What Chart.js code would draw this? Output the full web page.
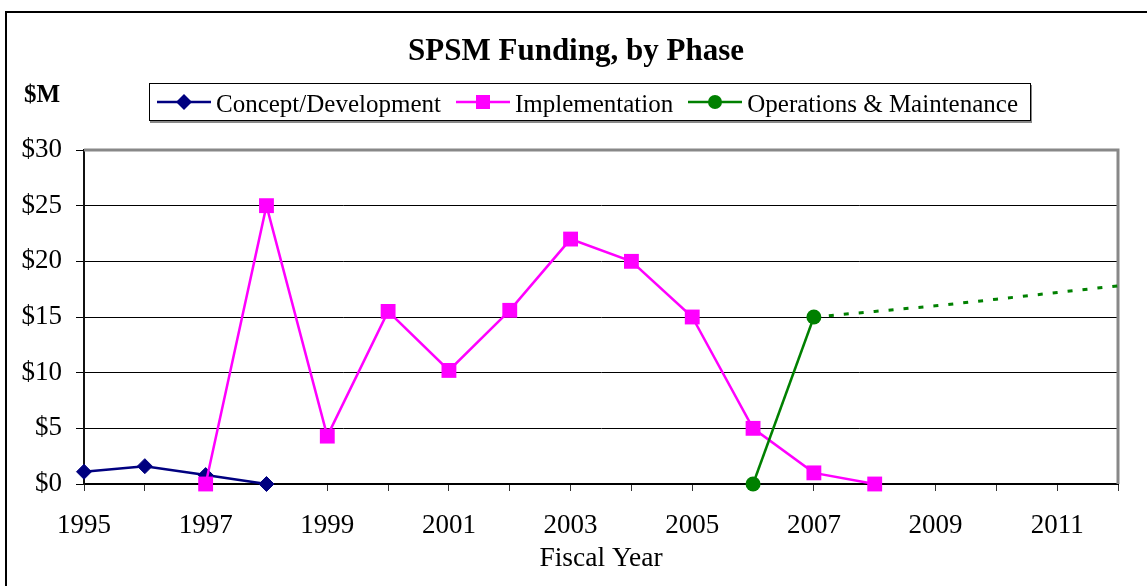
<!DOCTYPE html>
<html>
<head>
<meta charset="utf-8">
<script src="https://cdn.jsdelivr.net/npm/chart.js@4/dist/chart.umd.min.js"></script>
<style>
  body { margin: 0; background: #fff; font-family: "Liberation Serif", serif; }
  #wrap { position: relative; width: 1147px; height: 586px; overflow: hidden; }
  #frame { position: absolute; left: 5px; top: 11px; width: 1160px; height: 600px; border: 2px solid #000; }
  #chart { position: absolute; left: 0; top: 0; }
  #title { position: absolute; left: 0; top: 34px; width: 1152px; text-align: center; font-weight: bold; font-size: 31px; line-height: 1; }
  #unit { position: absolute; left: 24px; top: 81px; font-weight: bold; font-size: 25px; line-height: 1; }
  #legend { position: absolute; left: 149px; top: 83px; width: 873px; height: 36px; border: 1px solid #000;
            box-shadow: 1px 2px 0 #888; display: flex; align-items: center; padding-left: 7px; box-sizing: content-box;
            background: #fff; white-space: nowrap; overflow: hidden; }
  .item { display: flex; align-items: center; margin-right: 15px; flex-shrink: 0; }
  .item:last-child { margin-right: 0; }
  .item svg { flex-shrink: 0; }
  .item span { font-size: 25px; line-height: 1; margin-left: 5px; padding-top: 2px; white-space: nowrap; }
</style>
</head>
<body>
<div id="wrap">
  <div id="frame"></div>
  <canvas id="chart" width="1147" height="586"></canvas>
  <div id="title">SPSM Funding, by Phase</div>
  <div id="unit">$M</div>
  <div id="legend"></div>
</div>
<script>
const years = ['1995', '1996', '1997', '1998', '1999', '2000', '2001', '2002', '2003',
  '2004', '2005', '2006', '2007', '2008', '2009', '2010', '2011', '2012'];
const conceptDev = [1.1, 1.6, 0.8, 0, null, null, null, null, null, null, null, null, null, null, null, null, null, null];
const implementation = [null, null, 0, 25, 4.3, 15.5, 10.2, 15.6, 22, 20, 15, 5, 1.0, 0, null, null, null, null];
const operations = [null, null, null, null, null, null, null, null, null, null, null, 0, 15, null, null, null, null, null];
const operationsProjected = [null, null, null, null, null, null, null, null, null, null, null, null, 15, 15.5, 16.0, 16.6, 17.2, 17.8];
const yTicks = [0, 5, 10, 15, 20, 25, 30];

const seriesNames = ['Concept/Development', 'Implementation', 'Operations & Maintenance'];
const seriesColors = ['#000080', '#ff00ff', '#008000'];
const seriesMarkers = ['diamond', 'square', 'circle'];

// legend built as html, the chart one can't draw line + marker
const legend = document.getElementById('legend');
seriesNames.forEach((name, i) => {
  const c = seriesColors[i];
  let marker = '';
  if (seriesMarkers[i] === 'diamond') marker = `<polygon points="27,2 35,10 27,18 19,10" fill="${c}"/>`;
  if (seriesMarkers[i] === 'square') marker = `<rect x="20" y="3" width="14" height="14" fill="${c}"/>`;
  if (seriesMarkers[i] === 'circle') marker = `<circle cx="27" cy="10" r="7" fill="${c}"/>`;
  const div = document.createElement('div');
  div.className = 'item';
  div.innerHTML = `<svg width="54" height="20"><line x1="0" y1="10" x2="54" y2="10" stroke="${c}" stroke-width="2.5"/>${marker}</svg><span>${name}</span>`;
  legend.appendChild(div);
});

const plotFrame = {
  id: 'plotFrame',
  beforeDatasetsDraw(chart) {
    const { ctx, chartArea: a } = chart;
    ctx.save();
    ctx.strokeStyle = '#888';
    ctx.lineWidth = 3;
    ctx.beginPath();
    ctx.moveTo(a.left, a.top);
    ctx.lineTo(a.right, a.top);
    ctx.lineTo(a.right, a.bottom);
    ctx.stroke();
    ctx.restore();
  }
};

const font = { family: 'Liberation Serif', size: 27 };

new Chart(document.getElementById('chart'), {
  type: 'line',
  data: {
    labels: years,
    datasets: [
      {
        label: seriesNames[0], data: conceptDev, order: 2, clip: false,
        borderColor: seriesColors[0], backgroundColor: seriesColors[0], borderWidth: 2.5,
        pointStyle: 'rectRot', pointRadius: 7.5, pointBorderWidth: 1
      },
      {
        label: seriesNames[1], data: implementation, order: 1, clip: false,
        borderColor: seriesColors[1], backgroundColor: seriesColors[1], borderWidth: 2.5,
        pointStyle: 'rect', pointRadius: 10.5, pointBorderWidth: 0
      },
      {
        label: seriesNames[2], data: operations, order: 0, clip: false,
        borderColor: seriesColors[2], backgroundColor: seriesColors[2], borderWidth: 2.5,
        pointStyle: 'circle', pointRadius: 7.5, pointBorderWidth: 0
      },
      {
        label: 'O&M projected', data: operationsProjected, order: 3, clip: false,
        borderColor: seriesColors[2], borderWidth: 3, borderDash: [5, 10], pointRadius: 0
      }
    ]
  },
  options: {
    responsive: false,
    animation: false,
    layout: { padding: { top: 150, right: 29, bottom: 0, left: 0 } },
    plugins: {
      legend: { display: false },
      title: { display: false },
      tooltip: { enabled: false }
    },
    scales: {
      x: {
        type: 'category',
        offset: false,
        afterFit: (scale) => { scale.height = 102; },
        grid: { drawOnChartArea: false, drawTicks: true, tickLength: 7, color: '#333', lineWidth: 1 },
        border: { color: '#000', width: 2 },
        ticks: {
          autoSkip: false, maxRotation: 0, padding: 19, color: '#000', font: font,
          callback: (v, i) => Number(years[i]) % 2 === 1 ? years[i] : ''
        },
        title: { display: true, text: 'Fiscal Year', color: '#000', font: { family: 'Liberation Serif', size: 27.5 }, padding: { top: 0, bottom: 11 } }
      },
      y: {
        min: 0, max: 30,
        afterFit: (scale) => { scale.width = 84; },
        afterBuildTicks: (scale) => { scale.ticks = yTicks.map(v => ({ value: v })); },
        grid: {
          color: (c) => c.tick && c.tick.value === 30 ? 'rgba(0,0,0,0)' : '#000',
          tickColor: '#000', tickLength: 8, lineWidth: 1
        },
        border: { color: '#111', width: 2 },
        ticks: { padding: 14, color: '#000', font: font, callback: (v) => '$' + v }
      }
    }
  },
  plugins: [plotFrame]
});
</script>
</body>
</html>
